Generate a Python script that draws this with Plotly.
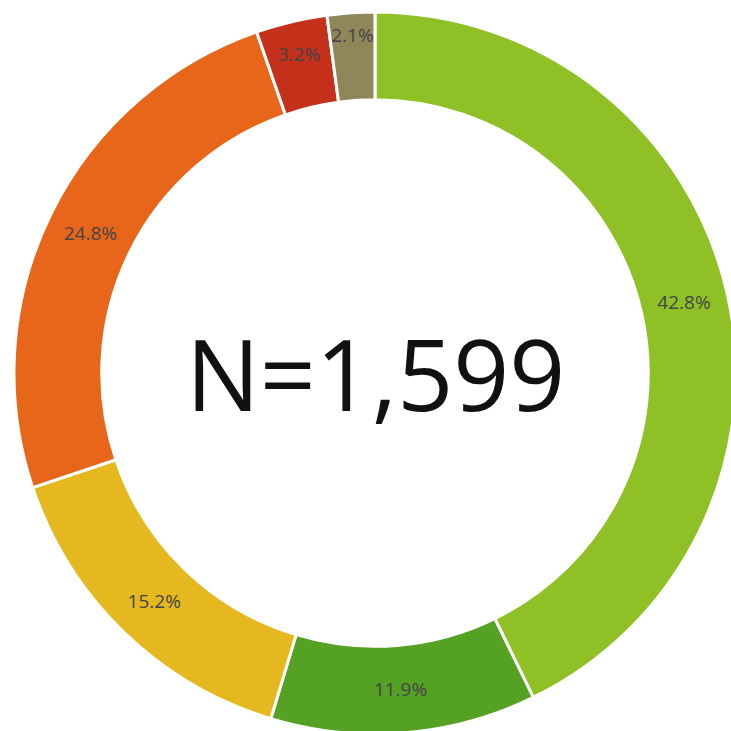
import plotly.graph_objects as go

categories = ["A", "B", "C", "D", "E", "F"]
counts = [684, 190, 243, 397, 51, 34]
colors = ["#8fc127", "#55a124", "#e5b81f", "#e8661a", "#c5301b", "#8f865a"]
center_label = "N=1,599"

W, H = 760, 760
top, bottom = 12, 734
fig = go.Figure(go.Pie(
    labels=categories,
    values=counts,
    sort=False,
    direction="clockwise",
    rotation=0,
    hole=0.757,
    marker=dict(colors=colors, line=dict(color="white", width=3)),
    textinfo="percent",
    texttemplate="%{percent:.1%}",
    textposition="inside",
    insidetextorientation="horizontal",
    textfont=dict(family="Open Sans", size=19, color="#444448"),
    showlegend=False,
    domain=dict(x=[0, 750 / W], y=[(H - bottom) / H, (H - top) / H]),
))
fig.add_annotation(
    text=center_label, x=375 / W, y=(H - 373) / H, xref="paper", yref="paper",
    showarrow=False, font=dict(family="Open Sans", size=98, color="#111111"),
    xanchor="center", yanchor="middle",
)
fig.update_layout(
    width=W, height=H, margin=dict(l=0, r=0, t=0, b=0),
    paper_bgcolor="white", plot_bgcolor="white",
    uniformtext=dict(minsize=19, mode="show"),
)
fig.write_html("out.html", config={"displayModeBar": False},
               post_script="document.body.style.margin='0';document.body.style.overflow='hidden';document.documentElement.style.overflow='hidden';")
